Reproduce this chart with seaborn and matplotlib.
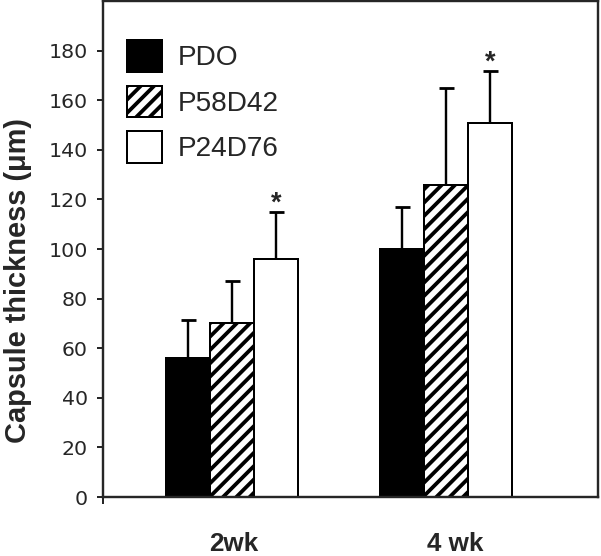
import numpy as np
import pandas as pd
import matplotlib
matplotlib.use("Agg")
import matplotlib.pyplot as plt
import seaborn as sns
from matplotlib.patches import Patch

# values
times = ["2wk", "4 wk"]
materials = ["PDO", "P58D42", "P24D76"]
means_2wk = [56, 70, 96]
means_4wk = [100, 126, 151]
err_2wk = [15.5, 17, 19]
err_4wk = [17, 39, 21]
signif = [False, False, True]   # asterisk over P24D76

df = pd.DataFrame({
    "time": np.repeat(times, 3),
    "material": materials * 2,
    "thickness": means_2wk + means_4wk,
    "err": err_2wk + err_4wk,
})

# dpi 80 so the '//' hatch spacing comes out like the original (~13px)
DPI = 80
def pt(px):
    # pixels -> points at this dpi
    return px * 72.0 / DPI

sns.set_style("ticks")
plt.rcParams["hatch.linewidth"] = pt(3.8)
plt.rcParams["font.family"] = ["DejaVu Sans"]

fig = plt.figure(figsize=(601 / DPI, 556 / DPI), dpi=DPI)
ax = fig.add_axes([0.171, 0.106, 0.824, 0.892])

colors = {"PDO": "black", "P58D42": "white", "P24D76": "white"}
sns.barplot(data=df, x="time", y="thickness", hue="material", palette=colors,
            width=0.615, edgecolor="black", linewidth=pt(2), errorbar=None,
            legend=False, ax=ax)

bars = ax.patches
for i, b in enumerate(bars):
    if materials[i // 2] == "P58D42":
        b.set_hatch("//")

# upper-only error bars + asterisks
for i, b in enumerate(bars):
    m = materials[i // 2]
    row = df[(df.material == m) & (df.time == times[i % 2])].iloc[0]
    xc = b.get_x() + b.get_width() / 2
    _, caps, _ = ax.errorbar(xc, row.thickness, yerr=[[0], [row.err]], fmt="none",
                             ecolor="black", elinewidth=pt(2.4), capsize=pt(7.5),
                             capthick=pt(2.8))
    for c in caps:
        if np.isclose(c.get_ydata()[0], row.thickness):
            c.set_visible(False)
    if signif[i // 2]:
        ax.text(xc, row.thickness + row.err - 2, "*", ha="center", va="bottom",
                fontsize=pt(27), fontweight="bold", family="Liberation Sans")

ax.set_xlim(-0.603, 1.710)
ax.set_ylim(0, 200)
ax.set_yticks(np.arange(0, 181, 20))
ax.tick_params(axis="y", labelsize=pt(20.5), length=pt(6), width=pt(2),
               direction="out", pad=pt(9))
ax.set_xticks([0.01, 1.044])
ax.set_xticklabels(times, fontsize=pt(26), fontweight="bold", family="Liberation Sans")
ax.tick_params(axis="x", which="major", length=0, pad=pt(35))
ax.set_xticks([-0.603], minor=True)
ax.tick_params(axis="x", which="minor", length=pt(7), width=pt(2))
ax.set_xlabel("")
ax.set_ylabel("Capsule thickness (\u03bcm)", fontsize=pt(29), fontweight="bold",
              family="Liberation Sans")
ax.yaxis.set_label_coords(-0.142, 0.4375)
for s in ax.spines.values():
    s.set_visible(True)
    s.set_linewidth(pt(2.4))

handles = [Patch(facecolor="black", edgecolor="black", linewidth=pt(2)),
           Patch(facecolor="white", edgecolor="black", hatch="//", linewidth=pt(2)),
           Patch(facecolor="white", edgecolor="black", linewidth=pt(2))]
ax.legend(handles, materials, loc="upper left", bbox_to_anchor=(0.049, 0.921),
          frameon=False, prop={"family": "Liberation Sans", "size": pt(28)},
          handlelength=1.25, handleheight=1.35, labelspacing=0.5,
          handletextpad=0.55, borderpad=0, borderaxespad=0)

fig.savefig("out.png", dpi=DPI)
